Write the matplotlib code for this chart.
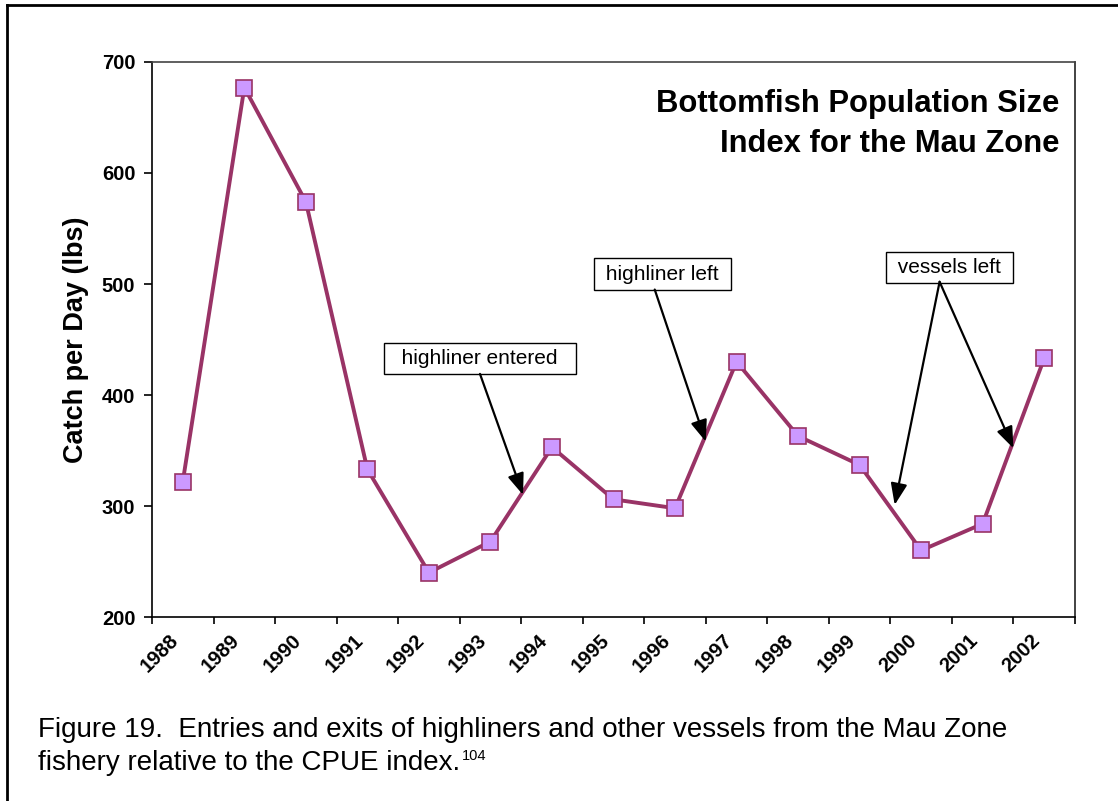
import matplotlib
matplotlib.use("Agg")
import matplotlib.pyplot as plt
import matplotlib.transforms as mtransforms
from matplotlib.lines import Line2D
import numpy as np

plt.rcParams['font.family'] = ['Liberation Sans', 'DejaVu Sans']

# data
years = ['1988', '1989', '1990', '1991', '1992', '1993', '1994', '1995',
         '1996', '1997', '1998', '1999', '2000', '2001', '2002']
cpue = [322, 677, 574, 333, 240, 268, 353, 306, 298, 430, 363, 337, 260, 284, 433]

# annotation labels
note_labels = ['highliner entered', 'highliner left', 'vessels left']

fig = plt.figure(figsize=(11.18, 8.01), dpi=100)
ax = fig.add_axes([0.136, 0.2297, 0.8255, 0.6929])

x = np.arange(len(years))
ax.plot(x, cpue, color='#993366', lw=2.8, marker='s', markersize=12,
        markerfacecolor='#CC99FF', markeredgecolor='#993366', markeredgewidth=1.2,
        zorder=3)

ax.set_xlim(-0.5, len(years) - 0.5)
ax.set_ylim(200, 700)
ax.set_yticks([200, 300, 400, 500, 600, 700])
ax.set_xticks(x)
ax.set_xticklabels(years, rotation=45, ha='right', rotation_mode='anchor',
                   fontsize=14.5, fontweight='bold')
ax.set_xticks(np.arange(-0.5, len(years), 0.5), minor=True)
ax.tick_params(axis='x', which='major', length=0, pad=10)
ax.tick_params(axis='x', which='minor', length=5, width=1.2, direction='out')
ax.tick_params(axis='y', length=6, width=1.2, direction='out', labelsize=14.5, pad=6)
for lab in ax.get_yticklabels():
    lab.set_fontweight('bold')

for s in ax.spines.values():
    s.set_linewidth(1.2)
ax.spines['top'].set_color('#444444')
ax.spines['right'].set_color('#222222')

ax.set_ylabel('Catch per Day (lbs)', fontsize=19.5, fontweight='bold', labelpad=9)

ax.text(0.983, 0.951, 'Bottomfish Population Size\nIndex for the Mau Zone',
        transform=ax.transAxes, ha='right', va='top', fontsize=22.3,
        fontweight='bold', linespacing=1.42)

box = dict(boxstyle='square,pad=0.3', fc='white', ec='black', lw=1)
arrow = dict(arrowstyle='-|>,head_length=1.3,head_width=0.5', color='black',
             lw=1.6, shrinkA=0, shrinkB=0)

# text boxes
ax.text(4.83, 433, '  ' + note_labels[0] + '  ', ha='center', va='center',
        fontsize=15, bbox=box)
ax.text(7.79, 509, ' ' + note_labels[1] + ' ', ha='center', va='center',
        fontsize=15, bbox=box)
ax.text(12.46, 515, ' ' + note_labels[2] + ' ', ha='center', va='center',
        fontsize=15, bbox=box)

# arrows
ax.annotate('', xy=(5.53, 310), xytext=(4.83, 419), arrowprops=arrow)
ax.annotate('', xy=(8.5, 358), xytext=(7.67, 495), arrowprops=arrow)
ax.annotate('', xy=(11.57, 301), xytext=(12.30, 502), arrowprops=arrow)
ax.annotate('', xy=(13.5, 352), xytext=(12.30, 502), arrowprops=arrow)

# caption
fig.text(0.034, 1 - 737 / 801, 'Figure 19.  Entries and exits of highliners and other vessels from the Mau Zone',
         ha='left', va='baseline', fontsize=20)
line2 = fig.text(0.034, 1 - 770 / 801, 'fishery relative to the CPUE index.',
                 ha='left', va='baseline', fontsize=20)
sup = fig.text(0, 0, '104', fontsize=10.5, ha='left', va='top')

# outer frame (left and top edges)
fig.add_artist(Line2D([0.0063, 0.0063], [0.0, 0.9938], transform=fig.transFigure,
                      color='black', lw=2))
fig.add_artist(Line2D([0.0063, 1.0], [0.9938, 0.9938], transform=fig.transFigure,
                      color='black', lw=2))

fig.canvas.draw()
# superscript placed right after the second caption line
bb = line2.get_window_extent()
sup.set_position(((bb.x1 + 2) / fig.bbox.width, (bb.y1 + 1) / fig.bbox.height))
# nudge the rotated year labels left, as in the original
shift = mtransforms.ScaledTranslation(-14 / 100, 0, fig.dpi_scale_trans)
for tick in ax.xaxis.get_major_ticks():
    tick.label1.set_transform(tick.label1.get_transform() + shift)

fig.savefig('out.png', dpi=100)
